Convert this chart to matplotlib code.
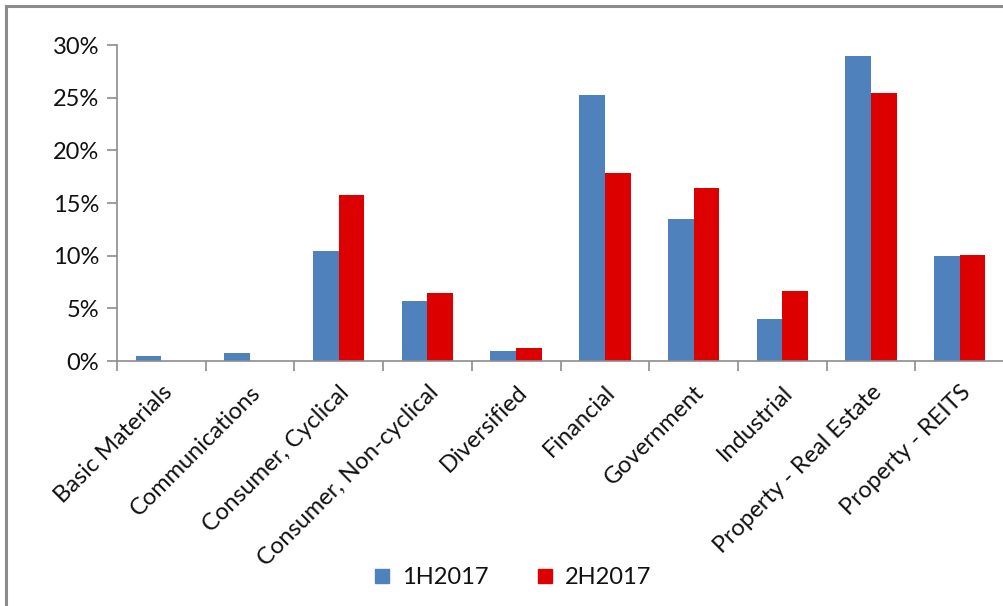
import matplotlib
matplotlib.use("Agg")
import matplotlib.pyplot as plt
import numpy as np
from matplotlib.lines import Line2D
from matplotlib.ticker import FuncFormatter, FixedLocator

# sector breakdown, share of total (%)
sectors = ["Basic Materials", "Communications", "Consumer, Cyclical",
           "Consumer, Non-cyclical", "Diversified", "Financial", "Government",
           "Industrial", "Property - Real Estate", "Property - REITS"]
h1_2017 = [0.45, 0.8, 10.4, 5.65, 0.92, 25.3, 13.45, 4.0, 28.95, 9.95]
h2_2017 = [0.0, 0.0, 15.8, 6.5, 1.27, 17.85, 16.4, 6.65, 25.45, 10.05]
series_names = ["1H2017", "2H2017"]

plt.rcParams['font.family'] = ['Lato', 'DejaVu Sans']
blue = "#4F81BD"
red = "#DD0000"
grey = "#8C8C8C"
txt = "#111111"
fs = 17

fig = plt.figure(figsize=(10.04, 6.06), dpi=100)
ax = fig.add_axes([117/1004, 1 - 361/606, 887/1004, 316/606])

x = np.arange(len(sectors))
w = 0.29
ax.bar(x - w/2, h1_2017, width=w, color=blue, label=series_names[0])
ax.bar(x + w/2, h2_2017, width=w, color=red, label=series_names[1])

ax.set_xlim(-0.5, len(sectors) - 0.5)
ax.set_ylim(0, 30)
ax.set_yticks(np.arange(0, 31, 5))
ax.yaxis.set_major_formatter(FuncFormatter(lambda v, p: f"{v:.0f}%"))

# category boundaries carry the ticks, names sit at the centres
ax.xaxis.set_major_locator(FixedLocator(np.arange(-0.5, len(sectors), 1.0)))
ax.xaxis.set_major_formatter(FuncFormatter(lambda v, p: ""))
ax.set_xticks(x, minor=True)
ax.set_xticklabels(sectors, minor=True, rotation=45, ha="right",
                   rotation_mode="anchor", fontsize=fs, color=txt)
ax.tick_params(axis="x", which="minor", length=0, pad=15)
ax.tick_params(axis="x", which="major", length=7, width=1.2, color=grey)
ax.tick_params(axis="y", length=7, width=1.2, color=grey, labelsize=fs,
               labelcolor=txt, pad=6)

for side in ["top", "right"]:
    ax.spines[side].set_visible(False)
for side in ["left", "bottom"]:
    ax.spines[side].set_color(grey)
    ax.spines[side].set_linewidth(1.2)

handles = [Line2D([], [], marker="s", linestyle="none", markersize=10,
                  color=c) for c in (blue, red)]
fig.legend(handles, series_names, loc="center", ncol=2,
           bbox_to_anchor=(512/1004, 1 - 578/606), frameon=False,
           handletextpad=0.45, columnspacing=2.0,
           handlelength=0.8, prop={'size': fs})
for t in fig.legends[0].get_texts():
    t.set_color(txt)

# chart frame (left and top edges)
fig.add_artist(Line2D([6/1004, 6/1004], [0, 1 - 6/606], color=grey, lw=2.2,
                      transform=fig.transFigure))
fig.add_artist(Line2D([6/1004, 1], [1 - 6/606, 1 - 6/606], color=grey, lw=2.2,
                      transform=fig.transFigure))

fig.savefig("out.png", dpi=100, facecolor="white")
